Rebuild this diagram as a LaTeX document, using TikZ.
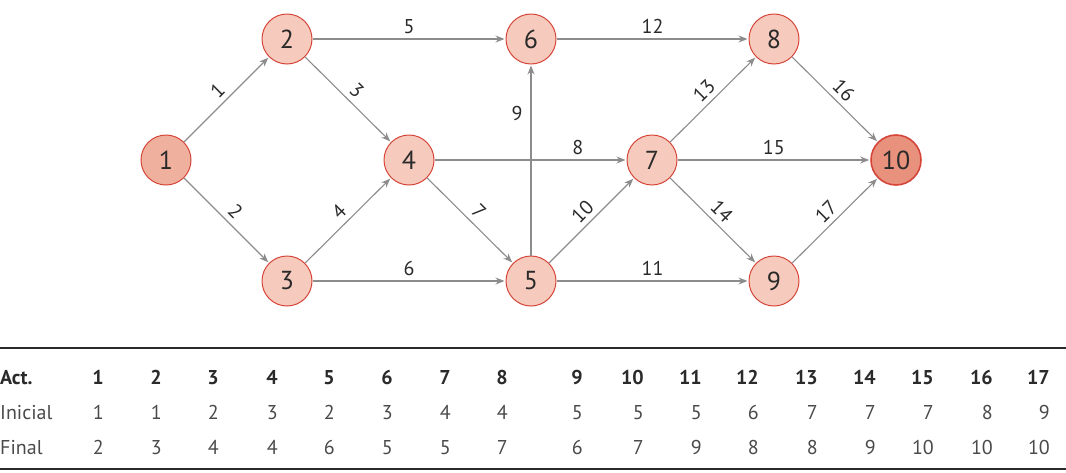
\documentclass[tikz,border=0pt]{standalone}
\usepackage{fontspec}
\setmainfont{PT Sans}
\usetikzlibrary{arrows.meta}
\definecolor{nodefill}{HTML}{F6CABD}
\definecolor{nodefillA}{HTML}{F0B09E}
\definecolor{nodefillB}{HTML}{E8917C}
\definecolor{nodeedge}{HTML}{D6453A}
\definecolor{edgegray}{HTML}{8C8C8C}
\definecolor{txt}{HTML}{2A2A2A}
\begin{document}
\begin{tikzpicture}[x=1pt,y=-1pt,
  ev/.style={circle,draw=nodeedge,fill=nodefill,line width=1pt,minimum size=50pt,inner sep=0pt,text=txt,font=\fontsize{26}{28}\selectfont},
  act/.style={draw=edgegray,line width=1.1pt,-{Stealth[length=9pt,width=7pt]},shorten >=1pt},
  lab/.style={font=\fontsize{20}{22}\selectfont,text=txt,inner sep=5pt},
  hlab/.style={lab,above,inner sep=5pt},
  hd/.style={font=\fontsize{20}{22}\selectfont\bfseries,text=txt,anchor=base east,inner sep=0pt},
  cell/.style={font=\fontsize{20}{22}\selectfont,text=txt!85,anchor=base east,inner sep=0pt},
  rowlab/.style={font=\fontsize{20}{22}\selectfont,text=txt!85,anchor=base west,inner sep=0pt},
  rule/.style={line width=1.6pt,draw=txt}]
\useasboundingbox (0,0) rectangle (1066,472);
% events
\node[ev,fill=nodefillA] (n1) at (166,160) {1};
\node[ev] (n2) at (287,39) {2};
\node[ev] (n3) at (287,281) {3};
\node[ev] (n4) at (409,160) {4};
\node[ev] (n5) at (531,281) {5};
\node[ev] (n6) at (531,39) {6};
\node[ev] (n7) at (652,160) {7};
\node[ev] (n8) at (774,39) {8};
\node[ev] (n9) at (774,281) {9};
\node[ev,fill=nodefillB,line width=1.6pt] (n10) at (896,160) {10};
% activities
\draw[act] (n1) -- node[lab,sloped,above]{1} (n2);
\draw[act] (n1) -- node[lab,sloped,above]{2} (n3);
\draw[act] (n2) -- node[lab,sloped,above]{3} (n4);
\draw[act] (n3) -- node[lab,sloped,above]{4} (n4);
\draw[act] (n2) -- node[hlab]{5} (n6);
\draw[act] (n3) -- node[hlab]{6} (n5);
\draw[act] (n4) -- node[lab,sloped,above]{7} (n5);
\draw[act] (n4) -- node[hlab,pos=0.746]{8} (n7);
\draw[act] (n5) -- node[lab,left,pos=0.745,inner sep=8pt]{9} (n6);
\draw[act] (n5) -- node[lab,sloped,above]{10} (n7);
\draw[act] (n5) -- node[hlab]{11} (n9);
\draw[act] (n6) -- node[hlab]{12} (n8);
\draw[act] (n7) -- node[lab,sloped,above]{13} (n8);
\draw[act] (n7) -- node[lab,sloped,above]{14} (n9);
\draw[act] (n7) -- node[hlab]{15} (n10);
\draw[act] (n8) -- node[lab,sloped,above]{16} (n10);
\draw[act] (n9) -- node[lab,sloped,above]{17} (n10);
% table
\coordinate (tl) at (0,348); \coordinate (tr) at (1066,348);
\coordinate (bl) at (0,469); \coordinate (br) at (1066,469);
\draw[rule] (tl) -- (tr);
\draw[rule] (bl) -- (br);
\node[rowlab,font=\fontsize{20}{22}\selectfont\bfseries,text=txt] (hAct) at (0,384) {Act.};
\node[rowlab] (hIni) at (0,419) {Inicial};
\node[rowlab] (hFin) at (0,454) {Final};
\foreach \k/\x/\a/\b in {1/104/1/2,2/162/1/3,3/219/2/4,4/278/3/4,5/335/2/6,6/393/3/5,7/451/4/5,8/508/4/7,9/583/5/6,10/644/5/7,11/702/5/9,12/759/6/8,13/818/7/8,14/876/7/9,15/934/7/10,16/993/8/10,17/1050/9/10}{
  \node[hd] (h\k) at (\x,384) {\k};
  \node[cell] (i\k) at (\x,419) {\a};
  \node[cell] (f\k) at (\x,454) {\b};
}
\end{tikzpicture}
\end{document}
